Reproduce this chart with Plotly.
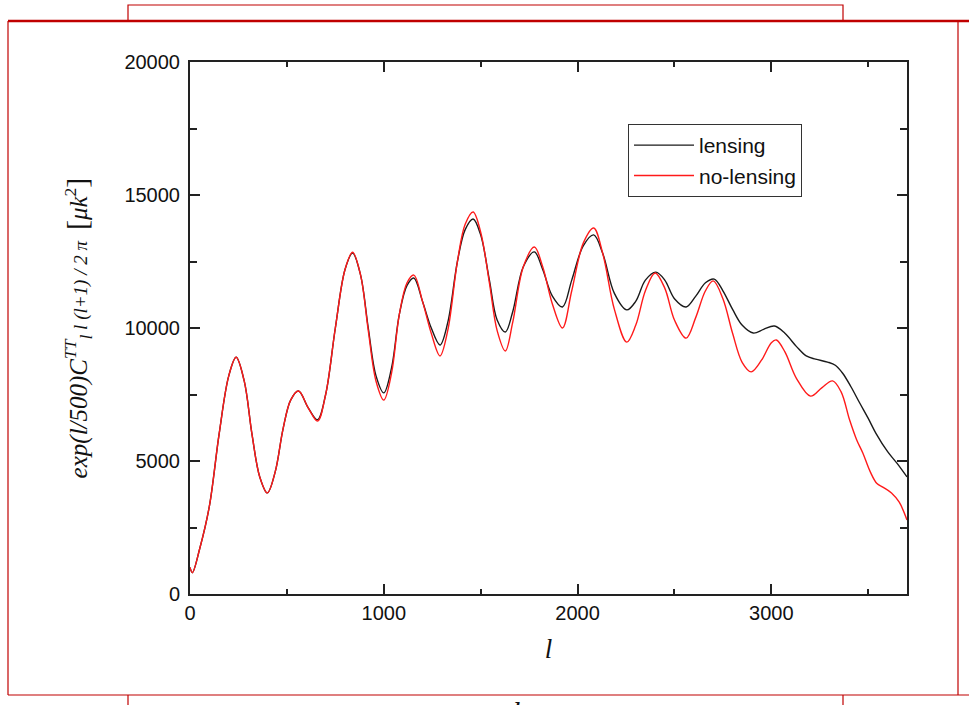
import plotly.graph_objects as go

# Multipole l and scaled TT power spectrum, with lensing
l_lens = [0, 12, 50, 100, 150, 200, 238, 280, 320, 360, 399, 440, 480, 520, 560,
          610, 658, 700, 750, 800, 839, 880, 920, 960, 1000, 1040, 1080, 1120, 1155,
          1200, 1245, 1290, 1330, 1380, 1420, 1461, 1500, 1545, 1585, 1627, 1665,
          1720, 1777, 1820, 1870, 1922, 1970, 2030, 2083, 2130, 2190, 2254, 2300,
          2350, 2404, 2450, 2500, 2560, 2610, 2660, 2705, 2750, 2800, 2850, 2907,
          2960, 3016, 3070, 3130, 3180, 3228, 3290, 3330, 3368, 3410, 3456, 3500,
          3539, 3600, 3650, 3700]
cl_lens = [1000, 800, 1700, 3300, 6000, 8200, 8900, 8000, 6000, 4400, 3800, 4600, 6200,
           7300, 7630, 7000, 6550, 7500, 10000, 12200, 12820, 12000, 10000, 8200, 7560,
           8500, 10500, 11600, 11880, 11000, 10000, 9360, 10200, 12500, 13700, 14100,
           13500, 11800, 10300, 9850, 10600, 12300, 12860, 12200, 11200, 10790, 11800,
           13100, 13500, 12800, 11300, 10680, 11000, 11800, 12100, 11800, 11100, 10790,
           11200, 11700, 11840, 11400, 10700, 10100, 9810, 9950, 10075, 9800, 9300,
           8950, 8830, 8720, 8600, 8300, 7800, 7180, 6600, 6050, 5350, 4900, 4400]

# Same spectrum without lensing
l_nolens = [0, 12, 50, 100, 150, 200, 238, 280, 320, 360, 399, 440, 480, 520, 560,
            610, 658, 700, 750, 800, 839, 880, 920, 960, 1000, 1040, 1080, 1120, 1155,
            1200, 1245, 1290, 1330, 1380, 1420, 1461, 1500, 1545, 1585, 1627, 1665,
            1720, 1777, 1820, 1870, 1922, 1970, 2030, 2083, 2130, 2190, 2254, 2300,
            2350, 2400, 2450, 2500, 2560, 2610, 2660, 2700, 2750, 2800, 2850, 2896,
            2950, 3000, 3026, 3070, 3130, 3202, 3260, 3316, 3360, 3404, 3440, 3472,
            3510, 3545, 3575, 3620, 3660, 3700]
cl_nolens = [1000, 800, 1700, 3300, 6000, 8200, 8900, 8000, 6000, 4400, 3800, 4600, 6200,
             7300, 7630, 7000, 6500, 7500, 10000, 12200, 12850, 12000, 9900, 8000, 7290,
             8300, 10500, 11700, 11990, 11000, 9800, 8950, 9900, 12500, 13900, 14360,
             13600, 11700, 9900, 9135, 10200, 12300, 13045, 12300, 10900, 10000, 11400,
             13200, 13760, 12800, 10700, 9470, 10100, 11400, 12070, 11500, 10300, 9620,
             10400, 11400, 11770, 11100, 9800, 8700, 8350, 8800, 9450, 9550, 9100, 8100,
             7440, 7750, 8010, 7600, 6540, 5800, 5300, 4600, 4150, 4020, 3800, 3450, 2780]

x_ticks = [0, 1000, 2000, 3000]
y_ticks = [0, 5000, 10000, 15000, 20000]

W, H = 969, 705
ML, MR, MT, MB = 190, 62, 62, 111
PW, PH = W - ML - MR, H - MT - MB


def px(x):
    return (x - ML) / PW


def py(y):
    return (H - MB - y) / PH


fig = go.Figure()
fig.add_trace(go.Scatter(x=l_lens, y=cl_lens, mode="lines", name="lensing",
                         line=dict(color="#1a1a1a", width=1.4, shape="spline", smoothing=1.0)))
fig.add_trace(go.Scatter(x=l_nolens, y=cl_nolens, mode="lines", name="no-lensing",
                         line=dict(color="#ff1a1a", width=1.4, shape="spline", smoothing=1.0)))

red = "#c00000"
shapes = [
    # outer frame
    dict(type="line", x0=px(8), x1=px(969), y0=py(21), y1=py(21), line=dict(color=red, width=2.5)),
    dict(type="line", x0=px(8), x1=px(8), y0=py(21), y1=py(695), line=dict(color=red, width=1.2)),
    dict(type="line", x0=px(958), x1=px(958), y0=py(21), y1=py(695), line=dict(color=red, width=1.2)),
    dict(type="line", x0=px(8), x1=px(969), y0=py(695), y1=py(695), line=dict(color=red, width=1.2)),
    # strip above the frame
    dict(type="rect", x0=px(128), x1=px(843), y0=py(21), y1=py(5), line=dict(color=red, width=1.2)),
    # strip below the frame
    dict(type="line", x0=px(128), x1=px(128), y0=py(695), y1=py(710), line=dict(color=red, width=1.2)),
    dict(type="line", x0=px(843), x1=px(843), y0=py(695), y1=py(710), line=dict(color=red, width=1.2)),
]
for s in shapes:
    s.update(xref="paper", yref="paper", layer="above")

tick_font = dict(family="Liberation Sans, Arial", size=20, color="#111")
serif = "Liberation Serif, Times New Roman"

fig.update_layout(
    width=W, height=H,
    margin=dict(l=ML, r=MR, t=MT, b=MB),
    paper_bgcolor="white", plot_bgcolor="white",
    showlegend=True,
    legend=dict(x=px(628), y=py(124), xanchor="left", yanchor="top",
                bordercolor="#333", borderwidth=1, bgcolor="white",
                font=dict(family="Liberation Sans, Arial", size=21, color="#111"),
                itemwidth=60, tracegroupgap=0),
    shapes=shapes,
    annotations=[dict(xref="paper", yref="paper", x=px(516), y=py(693), xanchor="center",
                      yanchor="top", text="<i>l</i>", showarrow=False,
                      font=dict(family=serif, size=30, color="#111"))],
    xaxis=dict(range=[0, 3700], showgrid=False, zeroline=False,
               showline=True, linecolor="#222", linewidth=2, mirror="ticks",
               ticks="inside", ticklen=10, tickwidth=1.5, tickcolor="#222",
               tickmode="array", tickvals=x_ticks, ticktext=[str(v) for v in x_ticks],
               tickfont=tick_font,
               minor=dict(ticks="inside", ticklen=5, tickwidth=1.5, tickcolor="#222",
                          tickmode="linear", tick0=0, dtick=500),
               title=dict(text="<i>l</i>", standoff=16,
                          font=dict(family=serif, size=27, color="#111"))),
    yaxis=dict(range=[0, 20000], showgrid=False, zeroline=False,
               showline=True, linecolor="#222", linewidth=2, mirror="ticks",
               ticks="inside", ticklen=10, tickwidth=1.5, tickcolor="#222",
               tickmode="array", tickvals=y_ticks, ticktext=[str(v) for v in y_ticks],
               tickfont=tick_font, ticklabelstandoff=4,
               minor=dict(ticks="inside", ticklen=7, tickwidth=1.5, tickcolor="#222",
                          tickmode="linear", tick0=0, dtick=2500),
               title=dict(text="<i>exp(l/500)C</i><sup><i>TT</i></sup><sub><i>l</i></sub>"
                               "<span style='font-size:19px'><i> l (l+1) / 2 π </i></span>"
                               " <span style='font-size:30px'>[</span><i>μk</i><sup>2</sup>"
                               "<span style='font-size:30px'>]</span>",
                          standoff=30,
                          font=dict(family=serif, size=25, color="#111"))),
)

fig.write_html("out.html")
